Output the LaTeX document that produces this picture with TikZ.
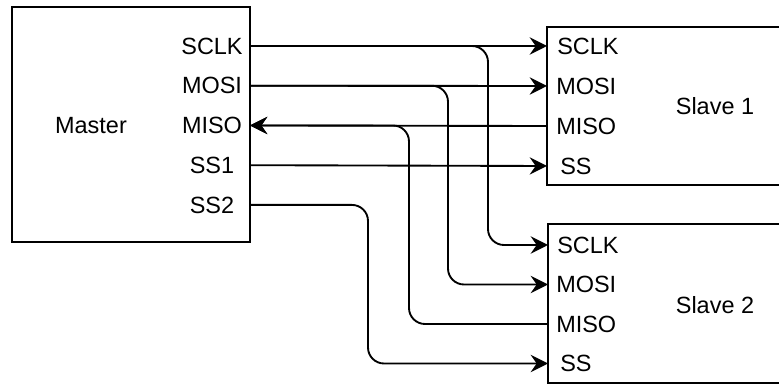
\documentclass[tikz,border=0pt]{standalone}
\usepackage{fontspec}
\setmainfont{Liberation Sans}
\usetikzlibrary{positioning,arrows.meta}

\begin{document}
\begin{tikzpicture}[x=0.75pt,y=-0.75pt,
    unit/.style={rectangle,draw,line width=1.4pt,inner sep=0pt,outer sep=0pt},
% Label style
    pin/.style={font=\fontsize{17.6}{21}\selectfont,inner sep=0pt},
    wire/.style={line width=1.4pt,rounded corners=12pt},
    >={Stealth[length=13pt,width=13pt,inset=4.5pt]}
    ]
   \useasboundingbox (0,0) rectangle (779,384);
   \clip (0,0) rectangle (779,384);
%%% Draw the blocks
   \node [unit,minimum width=178.5pt,minimum height=176.25pt] (master) at (131,124.5) {};
   \node [unit,minimum width=195pt,minimum height=118.5pt] (slave1) at (677,106) {};
   \node [unit,minimum width=195pt,minimum height=119.25pt] (slave2) at (678,303.5) {};
   \node [pin] (mastername) at (91,126) {Master};
   \node [pin] (slave1name) at (715,106) {Slave 1};
   \node [pin] (slave2name) at (715,305) {Slave 2};
%%% Master pins
   \begin{scope}[node distance=29.8pt,on grid]
      \node [pin] (msclk) at (212,46) {SCLK};
      \node [pin] [below=of msclk] (mmosi) {MOSI};
      \node [pin] [below=of mmosi] (mmiso) {MISO};
      \node [pin] [below=of mmiso] (mss1) {SS1};
      \node [pin] [below=of mss1] (mss2) {SS2};
   \end{scope}
%%% Slave pins
   \node [pin,anchor=west] (s1sclk) at (557,46) {SCLK};
   \node [pin,anchor=west] (s1mosi) at (556,86) {MOSI};
   \node [pin,anchor=west] (s1miso) at (556,126) {MISO};
   \node [pin,anchor=west] (s1ss) at (560,166) {SS};
   \node [pin,anchor=west] (s2sclk) at (557,245) {SCLK};
   \node [pin,anchor=west] (s2mosi) at (556,284.5) {MOSI};
   \node [pin,anchor=west] (s2miso) at (556,324) {MISO};
   \node [pin,anchor=west] (s2ss) at (560,363.5) {SS};
%%% Wires
   \draw [wire,->] (master.east |- msclk) -- (slave1.west |- s1sclk);
   \draw [wire,->] (master.east |- mmosi) -- (slave1.west |- s1mosi);
   \draw [wire,<-] (master.east |- mmiso) -- (slave1.west |- s1miso);
   \draw [wire,->] (master.east |- mss1) -- (slave1.west |- s1ss);

   \draw [wire,->] (master.east |- msclk) -- ++(238,0) |- (slave2.west |- s2sclk);
   \draw [wire,->] (master.east |- mmosi) -- ++(198,0) |- (slave2.west |- s2mosi);
   \draw [wire,<-] (master.east |- mmiso) -- ++(159,0) |- (slave2.west |- s2miso);
   \draw [wire,->] (master.east |- mss2) -- ++(118,0) |- (slave2.west |- s2ss);
\end{tikzpicture}
\end{document}
